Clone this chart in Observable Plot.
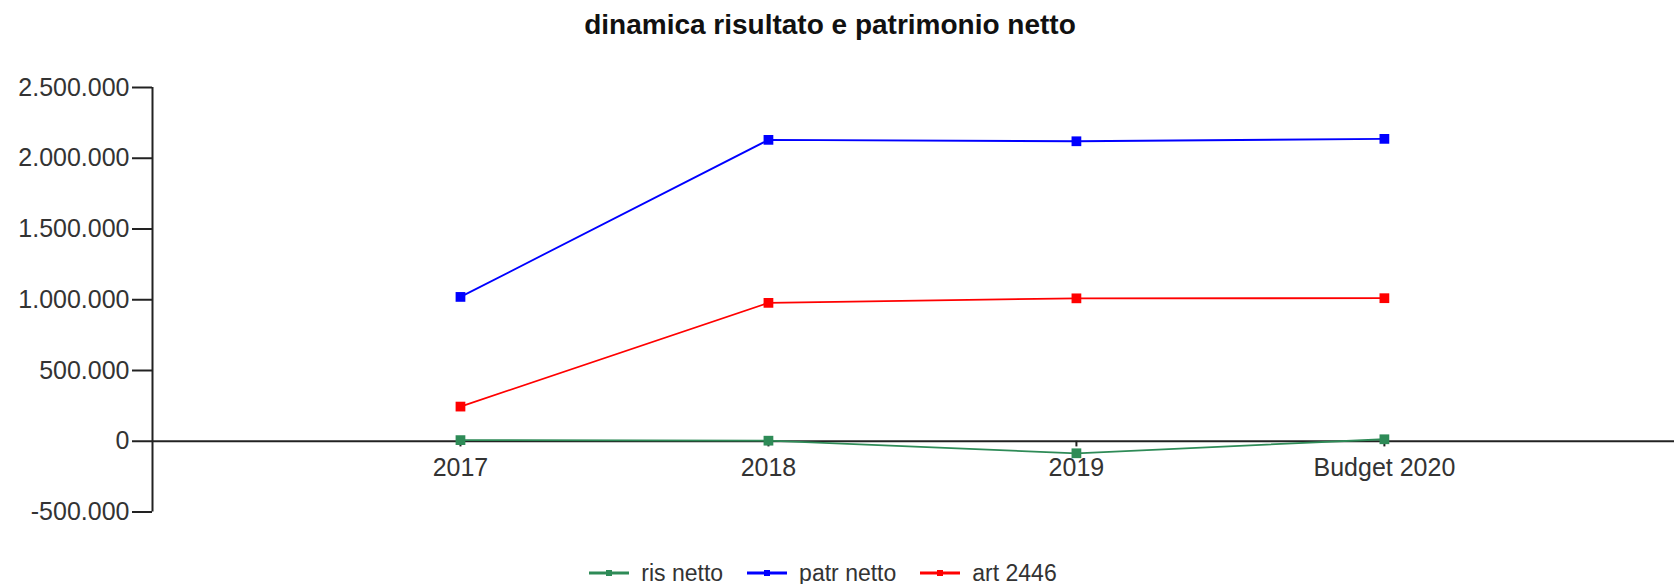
<!DOCTYPE html>
<html>
<head>
<meta charset="utf-8">
<script src="https://cdn.jsdelivr.net/npm/d3@7"></script>
<script src="https://cdn.jsdelivr.net/npm/@observablehq/plot@0.6"></script>
<style>
  html, body { margin: 0; padding: 0; background: #fff; }
  body { font-family: "Liberation Sans", Arial, sans-serif; width: 1674px; height: 584px; overflow: hidden; }
  #title { height: 50px; line-height: 50px; text-align: center; font-weight: bold; font-size: 28px; color: #111; padding-right: 14px; }
  #chart svg { display: block; }
  #legend { display: flex; justify-content: center; align-items: center; height: 34px; padding-top: 16px; padding-right: 28px; font-size: 23px; color: #333; }
  .item { display: flex; align-items: center; margin: 0 12px; }
  .item svg { margin-right: 12px; }
</style>
</head>
<body>
<div id="title">dinamica risultato e patrimonio netto</div>
<div id="chart"></div>
<div id="legend"></div>
<script>
// ---- data ----
const categories = ["2017", "2018", "2019", "Budget 2020"];
const risNetto   = [8000, 4000, -85000, 14000];
const patrNetto  = [1020000, 2130000, 2120000, 2137000];
const art2446    = [245000, 978000, 1010000, 1011000];
const seriesNames  = ["ris netto", "patr netto", "art 2446"];
const seriesColors = ["#2e8b57", "#0000ff", "#ff0000"];
const yTicks = [-500000, 0, 500000, 1000000, 1500000, 2000000, 2500000];

// ---- build table ----
const seriesValues = [risNetto, patrNetto, art2446];
const rows = [];
seriesNames.forEach((name, s) => {
  categories.forEach((c, i) => rows.push({series: name, idx: i, cat: c, value: seriesValues[s][i]}));
});
const catRows = categories.map((c, i) => ({idx: i, cat: c}));

const itLocale = d3.formatLocale({decimal: ",", thousands: ".", grouping: [3], currency: ["€", ""], minus: "-"});
const fmt = itLocale.format(",d");

const chart = Plot.plot({
  width: 1674,
  height: 490,
  marginTop: 37,
  marginBottom: 28.5,
  marginLeft: 152,
  marginRight: 0,
  style: {fontFamily: "'Liberation Sans', Arial, sans-serif", fontSize: "25px", color: "#333", background: "#fff"},
  x: {type: "linear", domain: [-1, 3.942], axis: null},
  y: {domain: [-500000, 2500000], axis: null},
  color: {domain: seriesNames, range: seriesColors},
  marks: [
    Plot.axisY({ticks: yTicks, tickFormat: fmt, tickSize: 20, tickPadding: 3, stroke: "#222", strokeWidth: 2, fill: "#333", fontSize: 25, label: null}),
    Plot.ruleX([-1], {y1: -500000, y2: 2500000, stroke: "#222", strokeWidth: 2}),
    Plot.ruleY([0], {stroke: "#222", strokeWidth: 2}),
    Plot.ruleX(catRows, {x: "idx", y1: 0, y2: -40000, stroke: "#222", strokeWidth: 2}),
    Plot.text(catRows, {x: "idx", y: 0, text: "cat", lineAnchor: "top", dy: 17, fill: "#333", fontSize: 25}),
    Plot.line(rows, {x: "idx", y: "value", z: "series", stroke: "series", strokeWidth: 1.8}),
    Plot.dot(rows, {x: "idx", y: "value", fill: "series", symbol: "square", r: 5.5, stroke: "none"})
  ]
});
document.getElementById("chart").appendChild(chart);

// ---- legend ----
const legend = document.getElementById("legend");
seriesNames.forEach((name, i) => {
  const item = document.createElement("div");
  item.className = "item";
  item.innerHTML = `<svg width="40" height="10"><line x1="0" x2="40" y1="5" y2="5" stroke="${seriesColors[i]}" stroke-width="3"/><rect x="17" y="2" width="6" height="6" fill="${seriesColors[i]}"/></svg><span>${name}</span>`;
  legend.appendChild(item);
});
</script>
</body>
</html>
